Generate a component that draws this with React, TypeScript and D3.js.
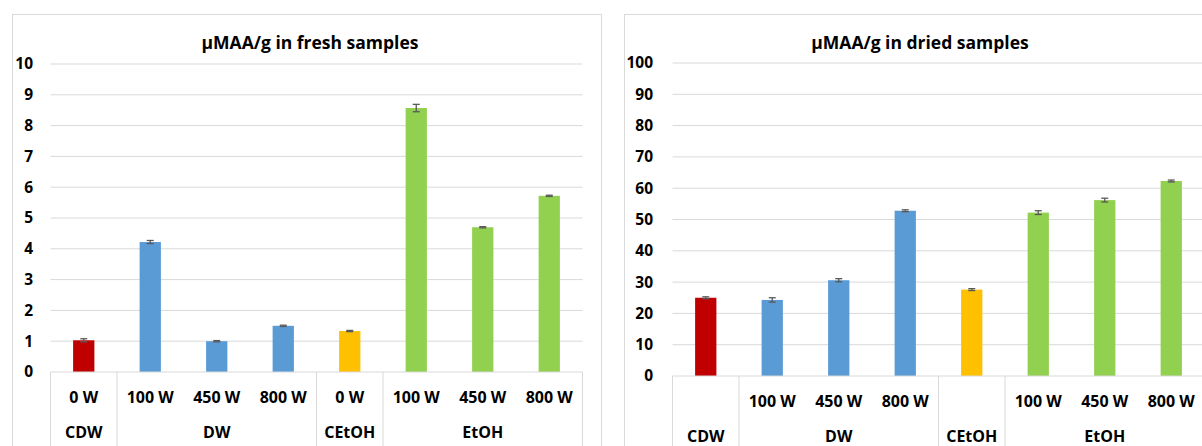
import * as d3 from "d3";

// categories (group / level)
const groups = ["CDW", "DW", "DW", "DW", "CEtOH", "EtOH", "EtOH", "EtOH"];
const levelsFresh = ["0 W", "100 W", "450 W", "800 W", "0 W", "100 W", "450 W", "800 W"];
const levelsDried = ["", "100 W", "450 W", "800 W", "", "100 W", "450 W", "800 W"];

// series values
const freshValues = [1.03, 4.22, 1.0, 1.5, 1.33, 8.57, 4.7, 5.72];
const freshErrors = [0.05, 0.05, 0.02, 0.02, 0.02, 0.12, 0.02, 0.02];
const driedValues = [25.0, 24.3, 30.6, 52.8, 27.6, 52.2, 56.2, 62.3];
const driedErrors = [0.3, 0.7, 0.5, 0.3, 0.3, 0.6, 0.6, 0.3];

// tick labels
const freshTicks = [0, 1, 2, 3, 4, 5, 6, 7, 8, 9, 10];
const driedTicks = [0, 10, 20, 30, 40, 50, 60, 70, 80, 90, 100];

const groupColors: Record<string, string> = {
  CDW: "#C00000",
  DW: "#5B9BD5",
  CEtOH: "#FFC000",
  EtOH: "#92D050",
};

const FONT = "'Open Sans', 'Noto Sans', sans-serif";

type ChartProps = {
  title: string;
  values: number[];
  errors: number[];
  levels: string[];
  ticks: number[];
  box: { x: number; y: number; w: number; h: number };
  plot: { left: number; right: number; top: number; bottom: number };
  labelX: number;
  titleX: number;
};

const Chart = ({ title, values, errors, levels, ticks, box, plot, labelX, titleX }: ChartProps) => {
  const keys = groups.map((g, i) => `${g}|${i}`);
  const x = d3.scaleBand().domain(keys).range([plot.left, plot.right]).padding(0);
  const y = d3
    .scaleLinear()
    .domain([0, d3.max(ticks) as number])
    .range([plot.bottom, plot.top]);
  const barW = x.bandwidth() * 0.32;

  // group spans for the second level of the axis
  const spans: { name: string; start: number; end: number }[] = [];
  groups.forEach((g, i) => {
    const last = spans[spans.length - 1];
    if (last && last.name === g) last.end = i;
    else spans.push({ name: g, start: i, end: i });
  });

  const tableBottom = 460;

  return (
    <g>
      <rect x={box.x} y={box.y} width={box.w} height={box.h} fill="#fff" stroke="#D9D9D9" />
      <text x={titleX} y={49} textAnchor="middle" fontFamily={FONT} fontWeight="bold" fontSize={17.5} fill="#000">
        {title}
      </text>

      {/* gridlines and y tick labels */}
      {ticks.map((t) => (
        <g key={t}>
          {t > 0 && (
            <line x1={plot.left} x2={plot.right} y1={y(t)} y2={y(t)} stroke="#D9D9D9" strokeWidth={1} />
          )}
          <text x={labelX} y={y(t)} dy="0.35em" textAnchor="end" fontFamily={FONT} fontWeight="bold" fontSize={15.5} fill="#000">
            {t}
          </text>
        </g>
      ))}

      {/* bars */}
      {keys.map((k, i) => {
        const cx = (x(k) as number) + x.bandwidth() / 2;
        return (
          <g key={k}>
            <rect
              x={cx - barW / 2}
              y={y(values[i])}
              width={barW}
              height={y(0) - y(values[i])}
              fill={groupColors[groups[i]]}
            />
            <g stroke="#595959" strokeWidth={1.3}>
              <line x1={cx} x2={cx} y1={y(values[i] + errors[i])} y2={y(values[i] - errors[i])} />
              <line x1={cx - 3.5} x2={cx + 3.5} y1={y(values[i] + errors[i])} y2={y(values[i] + errors[i])} />
              <line x1={cx - 3.5} x2={cx + 3.5} y1={y(values[i] - errors[i])} y2={y(values[i] - errors[i])} />
            </g>
          </g>
        );
      })}

      {/* multi-level category axis */}
      <line x1={plot.left} x2={plot.right} y1={y(0)} y2={y(0)} stroke="#D9D9D9" />
      {spans.map((s) => (
        <line
          key={`sep-${s.start}`}
          x1={x(keys[s.start]) as number}
          x2={x(keys[s.start]) as number}
          y1={y(0)}
          y2={tableBottom}
          stroke="#D9D9D9"
        />
      ))}
      <line x1={plot.right} x2={plot.right} y1={y(0)} y2={tableBottom} stroke="#D9D9D9" />
      {keys.map((k, i) => (
        <text
          key={`lvl-${k}`}
          x={(x(k) as number) + x.bandwidth() / 2}
          y={y(0) + 25}
          dy="0.35em"
          textAnchor="middle"
          fontFamily={FONT}
          fontWeight="bold"
          fontSize={16}
          fill="#000"
        >
          {levels[i]}
        </text>
      ))}
      {spans.map((s) => (
        <text
          key={`grp-${s.start}`}
          x={((x(keys[s.start]) as number) + (x(keys[s.end]) as number) + x.bandwidth()) / 2}
          y={y(0) + 60}
          dy="0.35em"
          textAnchor="middle"
          fontFamily={FONT}
          fontWeight="bold"
          fontSize={16}
          fill="#000"
        >
          {s.name}
        </text>
      ))}
    </g>
  );
};

export default function App() {
  return (
    <svg
      width={1202}
      height={446}
      style={{ position: "absolute", left: 0, top: 0, background: "#fff" }}
    >
      <Chart
        title="µMAA/g in fresh samples"
        values={freshValues}
        errors={freshErrors}
        levels={levelsFresh}
        ticks={freshTicks}
        box={{ x: 12.5, y: 14.5, w: 589, h: 460 }}
        plot={{ left: 50.5, right: 582.5, top: 64, bottom: 372 }}
        labelX={33}
        titleX={310}
      />
      <Chart
        title="µMAA/g in dried samples"
        values={driedValues}
        errors={driedErrors}
        levels={levelsDried}
        ticks={driedTicks}
        box={{ x: 624.5, y: 14.5, w: 600, h: 460 }}
        plot={{ left: 672.5, right: 1204.5, top: 63, bottom: 376 }}
        labelX={653}
        titleX={920}
      />
    </svg>
  );
}
